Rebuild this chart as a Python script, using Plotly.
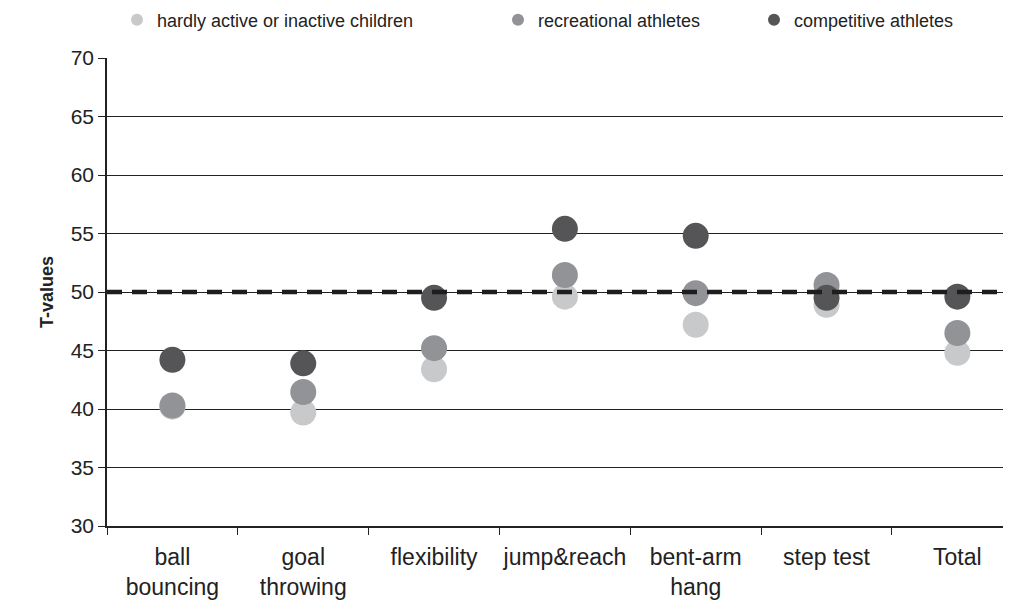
import plotly.graph_objects as go

categories = ["ball<br>bouncing", "goal<br>throwing", "flexibility", "jump&reach",
              "bent-arm<br>hang", "step test", "Total"]
inactive = [40.2, 39.7, 43.4, 49.6, 47.2, 48.9, 44.8]
recreational = [40.3, 41.45, 45.2, 51.45, 49.9, 50.6, 46.5]
competitive = [44.2, 43.9, 49.5, 55.4, 54.8, 49.5, 49.6]
series_names = ["hardly active or inactive children", "recreational athletes", "competitive athletes"]
series_colors = ["#c8c9cb", "#929396", "#555557"]
reference_value = 50
y_ticks = [30, 35, 40, 45, 50, 55, 60, 65, 70]

FONT = "Liberation Sans, Arial, sans-serif"

fig = go.Figure()
legend_ids = ["legend", "legend2", "legend3"]
for vals, name, color, lg in zip([inactive, recreational, competitive], series_names,
                                 series_colors, legend_ids):
    fig.add_trace(go.Scatter(
        x=categories, y=vals, mode="markers", name=name,
        marker=dict(size=26, color=color, line=dict(width=0)),
        legend=lg,
    ))

fig.add_hline(y=reference_value, line=dict(color="#1e1e1e", width=4.5, dash="15px,10px"),
              layer="above")

leg_common = dict(orientation="h", yanchor="middle", xanchor="left",
                  xref="container", yref="container",
                  font=dict(family=FONT, size=18, color="#222"),
                  itemsizing="constant", bgcolor="rgba(0,0,0,0)",
                  tracegroupgap=0, itemwidth=30)
LEG_Y = 1 - 12 / 601
fig.update_layout(
    width=1011, height=601,
    margin=dict(l=99, r=8, t=50, b=83, autoexpand=False),
    paper_bgcolor="white", plot_bgcolor="white",
    font=dict(family=FONT, size=23, color="#222"),
    showlegend=True,
    legend=dict(x=109 / 1011, y=LEG_Y, **leg_common),
    legend2=dict(x=490 / 1011, y=LEG_Y, **leg_common),
    legend3=dict(x=746 / 1011, y=LEG_Y, **leg_common),
    xaxis=dict(
        type="category", range=[-0.5, 6.41], tickson="boundaries",
        ticks="outside", ticklen=7, tickcolor="#222", tickwidth=1,
        showline=True, linecolor="#222", linewidth=2, showgrid=False,
        tickangle=0, ticklabelstandoff=9,
        tickfont=dict(family=FONT, size=23, color="#222"), zeroline=False,
        automargin=False,
    ),
    yaxis=dict(
        range=[30, 70], tickvals=y_ticks, ticks="outside", ticklen=7,
        tickcolor="#222", showline=True, linecolor="#222", linewidth=1.5,
        showgrid=True, gridcolor="#222", gridwidth=1, zeroline=False,
        tickfont=dict(family=FONT, size=21, color="#222"),
        automargin=False,
        title=dict(text="<b>T-values</b>", font=dict(family=FONT, size=18, color="#222"),
                   standoff=12),
    ),
)

fig.write_html("out.html")
